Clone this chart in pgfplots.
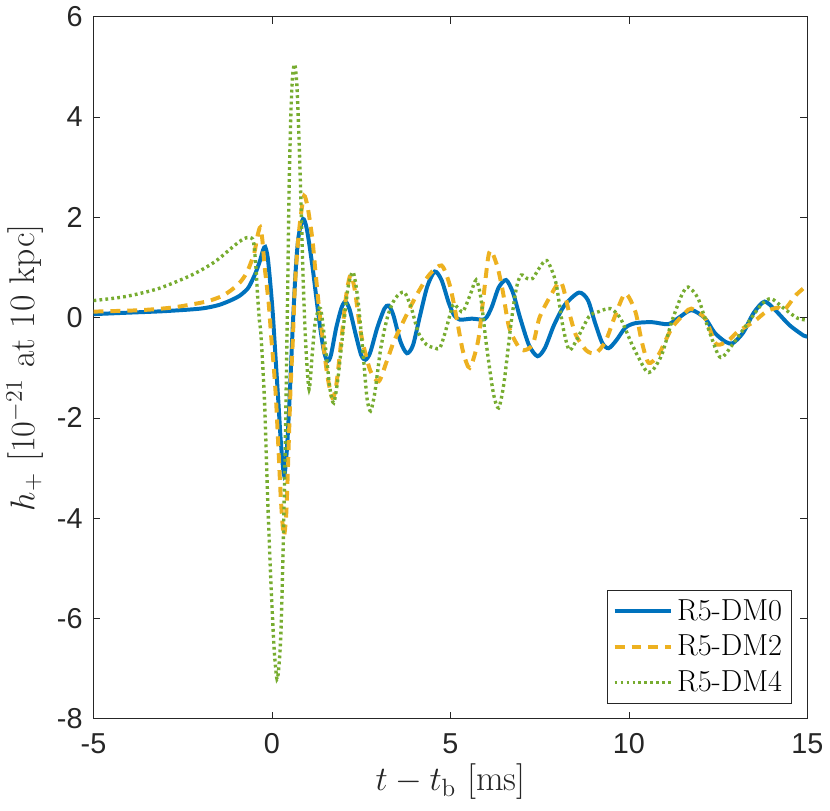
\documentclass[border=0pt]{standalone}
\usepackage{fontspec}
\usepackage{pgfplots}
\pgfplotsset{compat=1.18}
\newfontfamily\arialfont{Liberation Sans}
\definecolor{mblue}{HTML}{0072BD}
\definecolor{morange}{HTML}{EDB120}
\definecolor{mgreen}{HTML}{77AC30}
\definecolor{axgray}{HTML}{262626}
\begin{document}
\begin{tikzpicture}
\begin{axis}[
  scale only axis,
  width=359.5pt, height=353.5pt,
  xmin=-5, xmax=15, ymin=-8, ymax=6,
  xtick={-5,0,5,10,15}, xticklabels={-5,0,5,10,15},
  ytick={-8,-6,-4,-2,0,2,4,6}, yticklabels={-8,-6,-4,-2,0,2,4,6},
  tick align=inside, major tick length=3.5pt,
  axis line style={axgray, line width=0.4pt},
  tick style={axgray, line width=0.4pt},
  ticklabel style={font=\arialfont\fontsize{14.5}{17}\selectfont, text=axgray},
  xticklabel style={yshift=-4pt},
  yticklabel style={xshift=-2pt},
  xlabel={$t-t_\mathrm{b}$ [ms]},
  ylabel={$h_+$ [$10^{-21}$ at 10 kpc]},
  label style={font=\fontsize{18}{21}\selectfont, text=axgray},
  xlabel style={yshift=2pt},
  ylabel style={yshift=0pt},
  legend style={at={(0.9777,0.0212)}, anchor=south east,
    font=\fontsize{15.3}{18}\selectfont, draw=axgray, line width=0.4pt,
    row sep=2pt, inner sep=2.5pt},
  legend cell align=left,
  legend image code/.code={\draw[#1] (0cm,0cm) -- (1.0cm,0cm);},
  clip=true,
]
\addplot[mblue, line width=2pt, smooth, tension=0.45] coordinates {
(-5,0.07)(-4,0.10)(-3,0.13)(-2,0.18)(-1.5,0.25)(-1.14,0.35)(-0.9,0.44)(-0.68,0.58)(-0.55,0.75)(-0.45,0.91)(-0.33,1.15)(-0.25,1.35)(-0.19,1.41)(-0.12,1.20)(-0.05,0.7)(0.02,0.1)(0.10,-0.8)(0.18,-1.7)(0.25,-2.5)(0.34,-3.15)(0.42,-2.6)(0.50,-1.5)(0.58,-0.2)(0.66,0.9)(0.74,1.6)(0.87,1.97)(0.98,1.75)(1.13,1.04)(1.25,0.35)(1.35,-0.2)(1.45,-0.65)(1.55,-0.87)(1.65,-0.75)(1.80,-0.2)(1.95,0.20)(2.06,0.32)(2.18,0.15)(2.35,-0.35)(2.50,-0.75)(2.62,-0.84)(2.75,-0.7)(2.95,-0.2)(3.15,0.18)(3.27,0.24)(3.40,0.05)(3.60,-0.48)(3.78,-0.71)(3.95,-0.55)(4.15,0.05)(4.35,0.62)(4.56,0.92)(4.75,0.75)(4.95,0.30)(5.10,0.05)(5.26,-0.04)(5.6,-0.02)(5.96,-0.03)(6.15,0.2)(6.35,0.6)(6.56,0.75)(6.75,0.5)(6.95,0.0)(7.2,-0.55)(7.44,-0.77)(7.65,-0.6)(7.9,-0.15)(8.2,0.25)(8.60,0.50)(8.85,0.35)(9.05,-0.1)(9.25,-0.5)(9.43,-0.61)(9.65,-0.45)(9.9,-0.2)(10.18,-0.11)(10.64,-0.09)(11.1,-0.13)(11.4,0.0)(11.75,0.15)(12.13,-0.01)(12.4,-0.3)(12.7,-0.48)(12.91,-0.51)(13.2,-0.3)(13.5,0.1)(13.8,0.32)(14.1,0.15)(14.5,-0.15)(14.9,-0.36)(15,-0.37)
};
\addlegendentry{R5-DM0}
\addplot[morange, line width=2pt, dash pattern=on 5pt off 3.5pt, smooth, tension=0.45] coordinates {
(-5,0.12)(-4.5,0.13)(-3.65,0.15)(-2.81,0.20)(-2.2,0.27)(-1.79,0.33)(-1.4,0.43)(-1.14,0.55)(-0.9,0.70)(-0.72,0.88)(-0.6,1.08)(-0.49,1.31)(-0.40,1.65)(-0.33,1.80)(-0.27,1.55)(-0.21,1.04)(-0.14,0.6)(-0.08,0.18)(-0.02,-0.40)(0.04,-0.9)(0.11,-1.6)(0.18,-2.6)(0.25,-3.64)(0.33,-4.35)(0.40,-3.9)(0.46,-2.7)(0.52,-1.4)(0.58,-0.5)(0.64,0.6)(0.72,1.45)(0.81,2.05)(0.90,2.43)(1.0,2.2)(1.13,1.57)(1.22,0.9)(1.32,0.18)(1.40,-0.3)(1.55,-1.15)(1.69,-1.60)(1.80,-1.35)(1.95,-0.4)(2.08,0.45)(2.20,0.85)(2.32,0.55)(2.5,-0.35)(2.75,-1.05)(2.99,-1.27)(3.2,-0.9)(3.4,-0.5)(3.59,-0.21)(3.8,0.10)(4.05,0.45)(4.4,0.85)(4.75,1.04)(4.98,0.65)(5.17,0.0)(5.35,-0.67)(5.54,-1.0)(5.77,-0.48)(5.91,0.32)(6.05,1.17)(6.12,1.34)(6.2,1.25)(6.33,0.98)(6.47,0.51)(6.65,-0.21)(6.98,-0.64)(7.30,-0.54)(7.49,-0.01)(7.76,0.38)(8.09,0.71)(8.32,0.12)(8.51,-0.34)(8.8,-0.65)(9.06,-0.71)(9.34,-0.48)(9.62,0.05)(9.9,0.48)(10.18,0.12)(10.36,-0.48)(10.55,-0.90)(10.83,-0.74)(11.2,-0.21)(11.57,0.09)(11.75,0.18)(12.13,-0.01)(12.4,-0.48)(12.54,-0.54)(12.8,-0.45)(13.05,-0.28)(13.5,-0.08)(13.85,0.12)(14.17,0.2)(14.35,0.15)(14.68,0.45)(15,0.65)
};
\addlegendentry{R5-DM2}
\addplot[mgreen, line width=1.7pt, dash pattern=on 1.4pt off 1.6pt, smooth, tension=0.45] coordinates {
(-5,0.34)(-4.11,0.42)(-3.18,0.58)(-2.25,0.85)(-1.61,1.11)(-1.05,1.44)(-0.80,1.57)(-0.63,1.60)(-0.52,1.52)(-0.45,1.0)(-0.40,0.4)(-0.35,-0.08)(-0.31,-0.34)(-0.21,-1.66)(-0.12,-3.64)(-0.03,-5.29)(0.06,-6.61)(0.14,-7.21)(0.20,-6.9)(0.25,-6.28)(0.30,-4.96)(0.36,-3.0)(0.40,-1.3)(0.44,0.6)(0.48,2.6)(0.53,4.1)(0.58,4.85)(0.64,5.05)(0.70,4.6)(0.76,3.5)(0.82,2.1)(0.88,0.6)(0.95,-0.6)(1.04,-1.43)(1.13,-0.7)(1.22,-0.05)(1.36,0.18)(1.50,-0.6)(1.62,-1.4)(1.73,-1.70)(1.85,-1.2)(2.0,-0.2)(2.13,0.6)(2.27,0.91)(2.40,0.4)(2.55,-0.7)(2.66,-1.6)(2.76,-1.86)(2.88,-1.5)(3.05,-0.6)(3.25,0.05)(3.45,0.38)(3.70,0.51)(3.90,0.2)(4.1,-0.3)(4.33,-0.54)(4.55,-0.6)(4.70,-0.61)(4.85,-0.3)(5.07,0.25)(5.2,0.2)(5.35,0.12)(5.55,0.45)(5.72,0.75)(5.85,0.4)(6.0,-0.5)(6.2,-1.5)(6.35,-1.80)(6.5,-1.3)(6.7,-0.1)(6.85,0.6)(6.98,0.85)(7.15,0.78)(7.30,0.78)(7.5,1.0)(7.7,1.14)(7.95,0.71)(8.14,-0.14)(8.32,-0.64)(8.51,-0.48)(8.88,0.02)(9.16,0.12)(9.48,0.18)(9.76,-0.01)(10.09,-0.54)(10.46,-1.04)(10.64,-1.07)(10.92,-0.74)(11.2,-0.08)(11.48,0.45)(11.66,0.61)(11.94,0.38)(12.22,-0.21)(12.5,-0.74)(12.65,-0.77)(12.96,-0.48)(13.33,-0.11)(13.7,0.25)(13.98,0.38)(14.35,0.18)(14.72,-0.01)(15,-0.05)
};
\addlegendentry{R5-DM4}
\end{axis}
\path ([shift={(-45.5pt,-46pt)}]current axis.south west) rectangle ([shift={(10pt,6.5pt)}]current axis.north east);
\end{tikzpicture}
\end{document}
